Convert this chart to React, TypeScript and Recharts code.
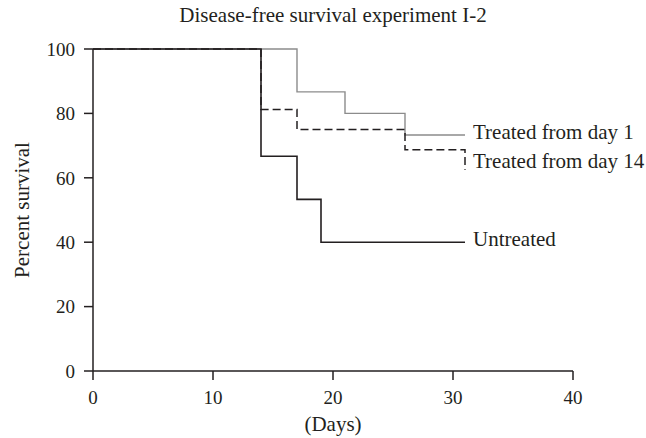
import { LineChart, Line, XAxis, YAxis } from 'recharts';

// Kaplan-Meier steps: day of each event and the survival % after it
const daysDay1 = [0, 17, 21, 26, 31];
const survivalDay1 = [100, 86.7, 80, 73.3, 73.3];

const daysDay14 = [0, 14, 17, 26, 31];
const survivalDay14 = [100, 81.25, 75, 68.75, 62.5];

const daysUntreated = [0, 14, 17, 19, 31];
const survivalUntreated = [100, 66.7, 53.3, 40, 40];

const xTicks = [0, 10, 20, 30, 40];
const yTicks = [0, 20, 40, 60, 80, 100];

const seriesNames = ['Treated from day 1', 'Treated from day 14', 'Untreated'];

const toRows = (days: number[], vals: number[]) => days.map((d, i) => ({ day: d, pct: vals[i] }));

const FONT = '"Liberation Serif", "Times New Roman", serif';
const ink = '#231f20';
const TEXT_SIZE = 21;

const endLabel = (text: string, count: number, dy: number) => (props: any) => {
  if (props.index !== count - 1) return null;
  return (
    <text x={props.x + 8} y={props.y + dy} fill={ink} fontSize={TEXT_SIZE} fontFamily={FONT}>
      {text}
    </text>
  );
};

export default function App() {
  const tick = { fontSize: 19, fill: ink, fontFamily: FONT };
  return (
    <div style={{ position: 'absolute', left: 0, top: 0, width: 646, height: 438, background: '#fff' }}>
      <div
        style={{
          position: 'absolute',
          left: 0,
          top: 2,
          width: 666,
          textAlign: 'center',
          fontFamily: FONT,
          fontSize: TEXT_SIZE,
          lineHeight: '26px',
          color: ink,
        }}
      >
        Disease-free survival experiment I-2
      </div>
      <LineChart width={646} height={438} margin={{ top: 49, right: 73, bottom: 27, left: 13 }}>
        <XAxis
          type="number"
          dataKey="day"
          domain={[0, 40]}
          ticks={xTicks}
          height={40}
          tickSize={9}
          tickMargin={11}
          stroke={ink}
          strokeWidth={1.5}
          tick={tick}
          label={{ value: '(Days)', position: 'bottom', offset: 5, fill: ink, fontSize: TEXT_SIZE, fontFamily: FONT }}
        />
        <YAxis
          type="number"
          dataKey="pct"
          domain={[0, 100]}
          ticks={yTicks}
          width={80}
          tickSize={9}
          tickMargin={9}
          stroke={ink}
          strokeWidth={1.5}
          tick={tick}
          label={{
            value: 'Percent survival',
            angle: -90,
            position: 'insideLeft',
            offset: 9,
            style: { textAnchor: 'middle' },
            fill: ink,
            fontSize: TEXT_SIZE,
            fontFamily: FONT,
          }}
        />
        <Line
          data={toRows(daysDay1, survivalDay1)}
          dataKey="pct"
          type="stepAfter"
          stroke="#8c8c8c"
          strokeWidth={1.4}
          dot={false}
          isAnimationActive={false}
          label={endLabel(seriesNames[0], daysDay1.length, 4)}
        />
        <Line
          data={toRows(daysUntreated, survivalUntreated)}
          dataKey="pct"
          type="stepAfter"
          stroke={ink}
          strokeWidth={1.6}
          dot={false}
          isAnimationActive={false}
          label={endLabel(seriesNames[2], daysUntreated.length, 4)}
        />
        <Line
          data={toRows(daysDay14, survivalDay14)}
          dataKey="pct"
          type="stepAfter"
          stroke={ink}
          strokeWidth={1.5}
          strokeDasharray="8 4"
          dot={false}
          isAnimationActive={false}
          label={endLabel(seriesNames[1], daysDay14.length, -2)}
        />
      </LineChart>
    </div>
  );
}
